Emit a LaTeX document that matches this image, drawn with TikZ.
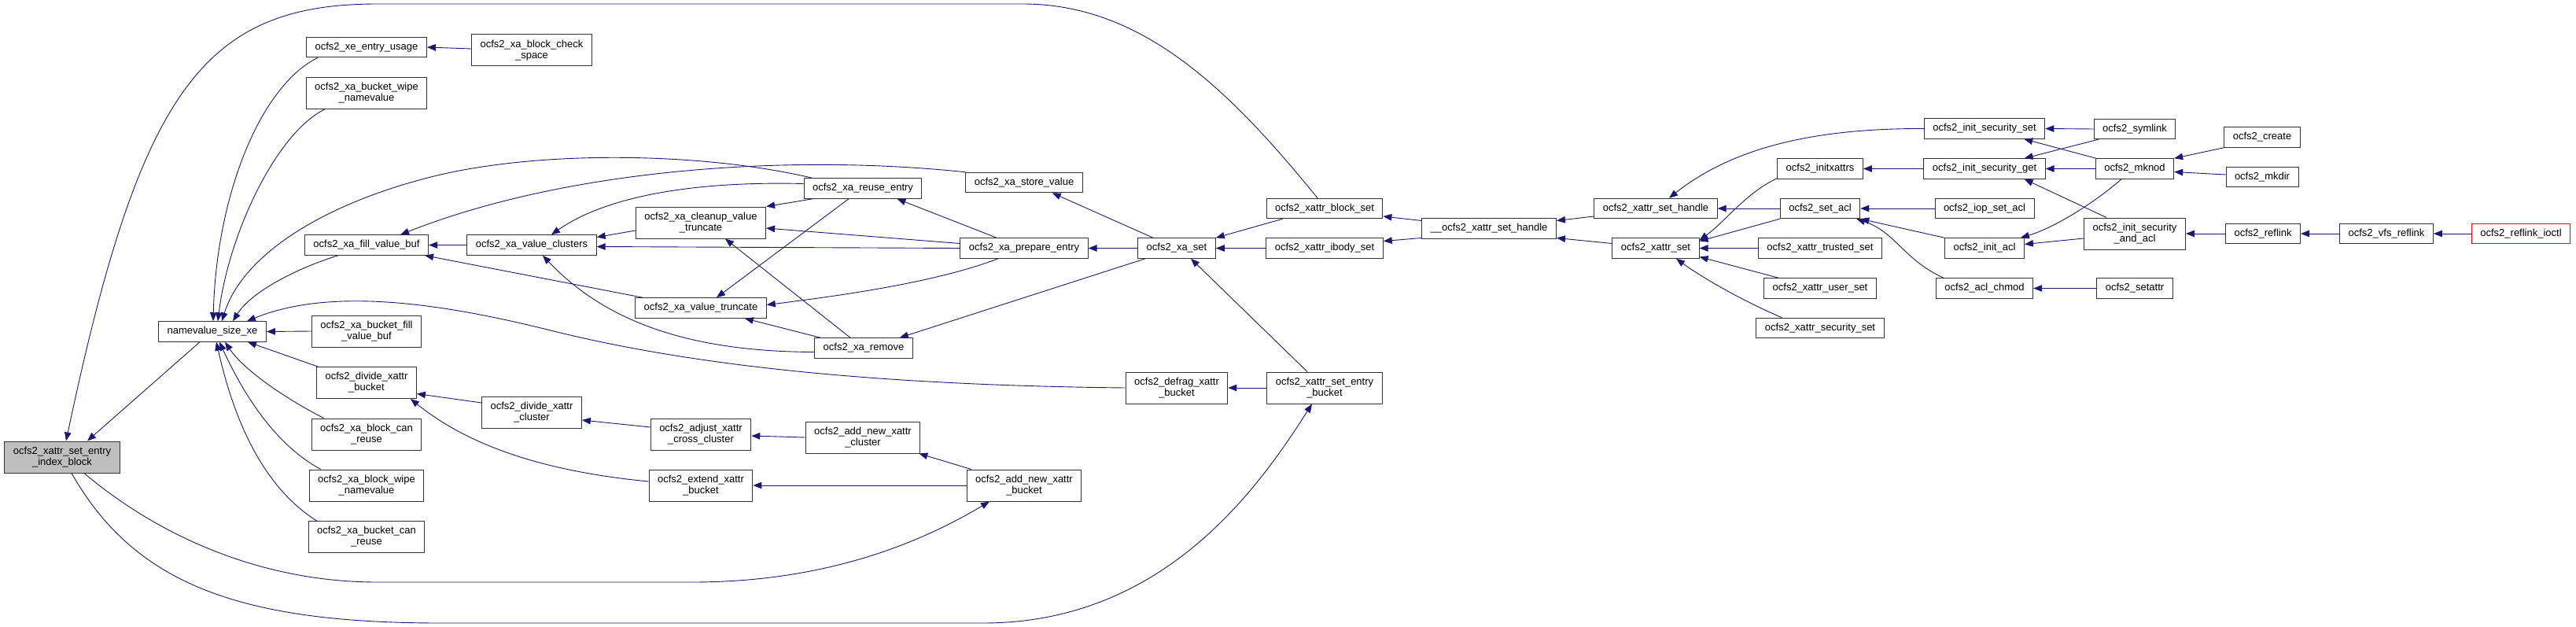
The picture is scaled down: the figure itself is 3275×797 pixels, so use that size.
\documentclass[tikz,border=0pt]{standalone}
\usepackage{fontspec}
\setmainfont{Liberation Sans}
\usetikzlibrary{arrows.meta,calc}
\definecolor{eblue}{HTML}{191970}
\definecolor{nodegray}{HTML}{BFBFBF}
\begin{document}
\begin{tikzpicture}[x=1pt,y=-1pt,
 box/.style={draw=black!80, line width=1.0pt, fill=white, font=\fontsize{13}{14}\selectfont, align=center, inner xsep=11pt, inner ysep=0pt, minimum height=25.5pt},
 two/.style={minimum height=40pt},
 conn/.style={draw=eblue, line width=0.9pt, -{Triangle[length=11pt,width=8.5pt]}}]
\useasboundingbox (0,0) rectangle (3275,797);
% column 0
\node[box,two,fill=nodegray] (gray) at (79,581) {ocfs2\_xattr\_set\_entry\\\_index\_block};
\node[box] (nv) at (270,421.5) {namevalue\_size\_xe};
% column 1
\node[box] (xeu) at (466,60) {ocfs2\_xe\_entry\_usage};
\node[box,two] (bwn) at (466,118.5) {ocfs2\_xa\_bucket\_wipe\\\_namevalue};
\node[box] (fvb) at (466,311.5) {ocfs2\_xa\_fill\_value\_buf};
\node[box,two] (bfvb) at (466,421) {ocfs2\_xa\_bucket\_fill\\\_value\_buf};
\node[box,two] (dxb) at (466,486.5) {ocfs2\_divide\_xattr\\\_bucket};
\node[box,two] (bcr) at (466,552) {ocfs2\_xa\_block\_can\\\_reuse};
\node[box,two] (bwn2) at (466,617) {ocfs2\_xa\_block\_wipe\\\_namevalue};
\node[box,two] (bucr) at (466,682.5) {ocfs2\_xa\_bucket\_can\\\_reuse};
% column 2
\node[box,two] (bcs) at (676,64) {ocfs2\_xa\_block\_check\\\_space};
\node[box] (vc) at (676,311.5) {ocfs2\_xa\_value\_clusters};
\node[box,two] (dxc) at (676,524) {ocfs2\_divide\_xattr\\\_cluster};
% column 3
\node[box,two] (cvt) at (891,283) {ocfs2\_xa\_cleanup\_value\\\_truncate};
\node[box] (vt) at (891,391.5) {ocfs2\_xa\_value\_truncate};
\node[box,two] (axcc) at (891,552) {ocfs2\_adjust\_xattr\\\_cross\_cluster};
\node[box,two] (exb) at (891,617) {ocfs2\_extend\_xattr\\\_bucket};
% column 4
\node[box] (re) at (1097,239.5) {ocfs2\_xa\_reuse\_entry};
\node[box] (rm) at (1098,442.5) {ocfs2\_xa\_remove};
\node[box,two] (anxc) at (1097,556) {ocfs2\_add\_new\_xattr\\\_cluster};
% column 5
\node[box] (sv) at (1302,232) {ocfs2\_xa\_store\_value};
\node[box] (pe) at (1302,315.5) {ocfs2\_xa\_prepare\_entry};
\node[box,two] (anxb) at (1302,617) {ocfs2\_add\_new\_xattr\\\_bucket};
% column 6
\node[box] (xs) at (1496,315.5) {ocfs2\_xa\_set};
\node[box,two] (dfb) at (1496,493) {ocfs2\_defrag\_xattr\\\_bucket};
% column 7
\node[box] (bs) at (1684,265) {ocfs2\_xattr\_block\_set};
\node[box] (ibs) at (1684,315.5) {ocfs2\_xattr\_ibody\_set};
\node[box,two] (seb) at (1684,493) {ocfs2\_xattr\_set\_entry\\\_bucket};
% column 8
\node[box] (hs) at (1893,290.5) {\_\_ocfs2\_xattr\_set\_handle};
% column 9
\node[box] (xsh) at (2105,265) {ocfs2\_xattr\_set\_handle};
\node[box] (xset) at (2105,315.5) {ocfs2\_xattr\_set};
% column 10
\node[box] (ix) at (2314,214.5) {ocfs2\_initxattrs};
\node[box] (sa) at (2314,265) {ocfs2\_set\_acl};
\node[box] (ts) at (2314,315.5) {ocfs2\_xattr\_trusted\_set};
\node[box] (us) at (2314,366.5) {ocfs2\_xattr\_user\_set};
\node[box] (ss) at (2314,417) {ocfs2\_xattr\_security\_set};
% column 11
\node[box] (iss) at (2523,163.5) {ocfs2\_init\_security\_set};
\node[box] (isg) at (2523,214.5) {ocfs2\_init\_security\_get};
\node[box] (isa) at (2523,265) {ocfs2\_iop\_set\_acl};
\node[box] (ia) at (2523,315.5) {ocfs2\_init\_acl};
\node[box] (ac) at (2523,366.5) {ocfs2\_acl\_chmod};
% column 12
\node[box] (sym) at (2714,164) {ocfs2\_symlink};
\node[box] (mk) at (2714,214.5) {ocfs2\_mknod};
\node[box,two] (isaa) at (2714,297) {ocfs2\_init\_security\\\_and\_acl};
\node[box] (sat) at (2714,366.5) {ocfs2\_setattr};
% column 13+
\node[box] (cr) at (2876,174.5) {ocfs2\_create};
\node[box] (md) at (2876,225) {ocfs2\_mkdir};
\node[box] (rl) at (2877,297) {ocfs2\_reflink};
\node[box] (vr) at (3034,297) {ocfs2\_vfs\_reflink};
\node[box,draw=red] (ri) at (3205,297) {ocfs2\_reflink\_ioctl};

% edges into the gray node and its long curves
\draw[conn] ($(bs.north)+(-9,0)$) .. controls (1560,110) and (1450,5) .. (1300,5) -- (480,5) .. controls (258,5) and (178,116) .. ($(gray.north)+(5,0)$);
\draw[conn] ($(nv.south)+(-16,0)$) -- ($(gray.north)+(32,0)$);
\draw[conn] ($(gray.south)+(28,0)$) .. controls (200,680) and (330,740) .. (480,740) -- (880,740) .. controls (1050,740) and (1170,690) .. ($(anxb.south)+(-44,0)$);
\draw[conn] ($(gray.south)+(12,0)$) .. controls (170,740) and (300,792) .. (560,792) -- (1250,792) .. controls (1480,792) and (1600,620) .. ($(seb.south)+(-16,0)$);

% edges into namevalue_size_xe
\draw[conn] (dfb.west) .. controls (1150,490) and (900,470) .. (700,420) .. controls (560,385) and (420,365) .. ($(nv.north east)+(-25,0)$);
\draw[conn] ($(re.north west)+(11,0)$) .. controls (900,195) and (700,190) .. (560,222) .. controls (420,255) and (310,320) .. ($(nv.north)+(12,0)$);
\draw[conn] ($(fvb.south west)+(43,0)$) .. controls (380,340) and (320,370) .. ($(nv.north)+(26,0)$);
\draw[conn] ($(xeu.south west)+(15,0)$) .. controls (330,110) and (275,250) .. ($(nv.north)+(1,0)$);
\draw[conn] ($(bwn.south west)+(24,0)$) .. controls (350,170) and (290,300) .. ($(nv.north)+(7,0)$);
\draw[conn] (bfvb.west) -- (nv.east);
\draw[conn] ($(dxb.north west)+(2,0)$) -- ($(nv.south east)+(-24,0)$);
\draw[conn] ($(bcr.north west)+(16,0)$) .. controls (360,505) and (310,470) .. ($(nv.south)+(16,0)$);
\draw[conn] ($(bwn2.north west)+(15,0)$) .. controls (340,560) and (300,480) .. ($(nv.south)+(9,0)$);
\draw[conn] ($(bucr.north west)+(11,0)$) .. controls (320,610) and (290,500) .. ($(nv.south)+(5,0)$);

% column 1 / 2 targets
\draw[conn] ($(bcs.west)+(0,-2)$) -- (xeu.east);
\draw[conn] (sv.north west) .. controls (1000,195) and (720,215) .. ($(fvb.north east)+(-36,0)$);
\draw[conn] (vc.west) -- (fvb.east);
\draw[conn] ($(vt.north west)+(10,0)$) -- ($(fvb.south east)+(-5,0)$);
\draw[conn] ($(cvt.west)+(0,10)$) -- ($(vc.east)+(0,-10)$);
\draw[conn] ($(re.west)+(0,-6)$) .. controls (880,230) and (770,250) .. ($(vc.north)+(25,0)$);
\draw[conn] (pe.west) -- ($(vc.east)+(0,2)$);
\draw[conn] ($(rm.west)+(0,5)$) .. controls (900,447) and (780,420) .. ($(vc.south)+(14,0)$);
\draw[conn] ($(dxc.west)+(0,-12)$) -- ($(dxb.east)+(0,14)$);
\draw[conn] ($(exb.west)+(0,-5)$) .. controls (700,600) and (600,570) .. ($(dxb.south east)+(-8,0)$);

% column 3 targets
\draw[conn] ($(re.south west)+(12,0)$) -- (cvt.north east);
\draw[conn] ($(pe.west)+(0,-6)$) -- ($(cvt.east)+(0,7)$);
\draw[conn] ($(rm.north)+(-17,0)$) -- ($(cvt.south)+(31,0)$);
\draw[conn] ($(re.south)+(-18,0)$) -- ($(vt.north)+(20,0)$);
\draw[conn] ($(pe.south)+(-33,0)$) .. controls (1200,355) and (1100,372) .. ($(vt.east)+(0,-4)$);
\draw[conn] ($(rm.north west)+(8,0)$) -- ($(vt.south east)+(-28,0)$);
\draw[conn] ($(axcc.west)+(0,-9)$) -- ($(dxc.east)+(0,10)$);
\draw[conn] (anxc.west) -- ($(axcc.east)+(0,2)$);
\draw[conn] (anxb.west) -- (exb.east);

% column 4 / 5 targets
\draw[conn] ($(pe.north)+(-35,0)$) -- ($(re.south east)+(-32,0)$);
\draw[conn] ($(anxb.north west)+(6,0)$) -- ($(anxc.south east)+(-2,0)$);
\draw[conn] (xs.west) -- (pe.east);
\draw[conn] ($(xs.north)+(-30,0)$) -- ($(sv.south east)+(-39,0)$);
\draw[conn] ($(xs.south west)+(10,0)$) -- ($(rm.north east)+(-17,0)$);

% column 6 targets
\draw[conn] ($(bs.south west)+(21,0)$) -- (xs.north east);
\draw[conn] (ibs.west) -- (xs.east);
\draw[conn] ($(seb.north)+(-22,0)$) -- ($(xs.south)+(18,0)$);
\draw[conn] (seb.west) -- (dfb.east);

% column 7 / 8 targets
\draw[conn] ($(hs.west)+(0,-10)$) -- ($(bs.east)+(0,10)$);
\draw[conn] ($(hs.west)+(0,12)$) -- ($(ibs.east)+(0,-9)$);
\draw[conn] ($(xsh.west)+(0,10)$) -- ($(hs.east)+(0,-10)$);
\draw[conn] ($(xset.west)+(0,-6)$) -- ($(hs.east)+(0,12)$);

% column 9 targets
\draw[conn] (iss.west) .. controls (2300,163) and (2200,190) .. ($(xsh.north)+(17,0)$);
\draw[conn] (sa.west) -- (xsh.east);
\draw[conn] ($(ix.south west)+(0,-1)$) .. controls (2220,245) and (2195,280) .. ($(xset.east)+(0,-10)$);
\draw[conn] (sa.south west) -- ($(xset.east)+(0,-9)$);
\draw[conn] (ts.west) -- (xset.east);
\draw[conn] ($(us.north west)+(19,0)$) -- ($(xset.east)+(0,11)$);
\draw[conn] ($(ss.north west)+(33,0)$) .. controls (2210,380) and (2160,350) .. ($(xset.south)+(26,0)$);

% column 10 targets
\draw[conn] (isg.west) -- (ix.east);
\draw[conn] (isa.west) -- (sa.east);
\draw[conn] (ia.north west) -- (sa.south east);
\draw[conn] ($(ac.north west)+(10,0)$) .. controls (2420,330) and (2410,295) .. ($(sa.south east)+(-5,0)$);

% column 11 targets
\draw[conn] (sym.west) -- (iss.east);
\draw[conn] ($(mk.north west)+(1,0)$) -- ($(iss.south east)+(-27,0)$);
\draw[conn] ($(sym.south west)+(6,0)$) -- ($(isg.north east)+(-27,0)$);
\draw[conn] (mk.west) -- (isg.east);
\draw[conn] ($(isaa.north west)+(29,0)$) -- ($(isg.south east)+(-27,0)$);
\draw[conn] ($(mk.south)+(-17,0)$) .. controls (2660,260) and (2610,290) .. ($(ia.north east)+(-5,0)$);
\draw[conn] ($(isaa.west)+(0,6)$) -- ($(ia.east)+(0,-5)$);
\draw[conn] (sat.west) -- (ac.east);

% right-most columns
\draw[conn] (cr.south west) -- (mk.north east);
\draw[conn] ($(md.west)+(0,-3)$) -- ($(mk.east)+(0,4)$);
\draw[conn] (rl.west) -- (isaa.east);
\draw[conn] (vr.west) -- (rl.east);
\draw[conn] (ri.west) -- (vr.east);
\end{tikzpicture}
\end{document}
